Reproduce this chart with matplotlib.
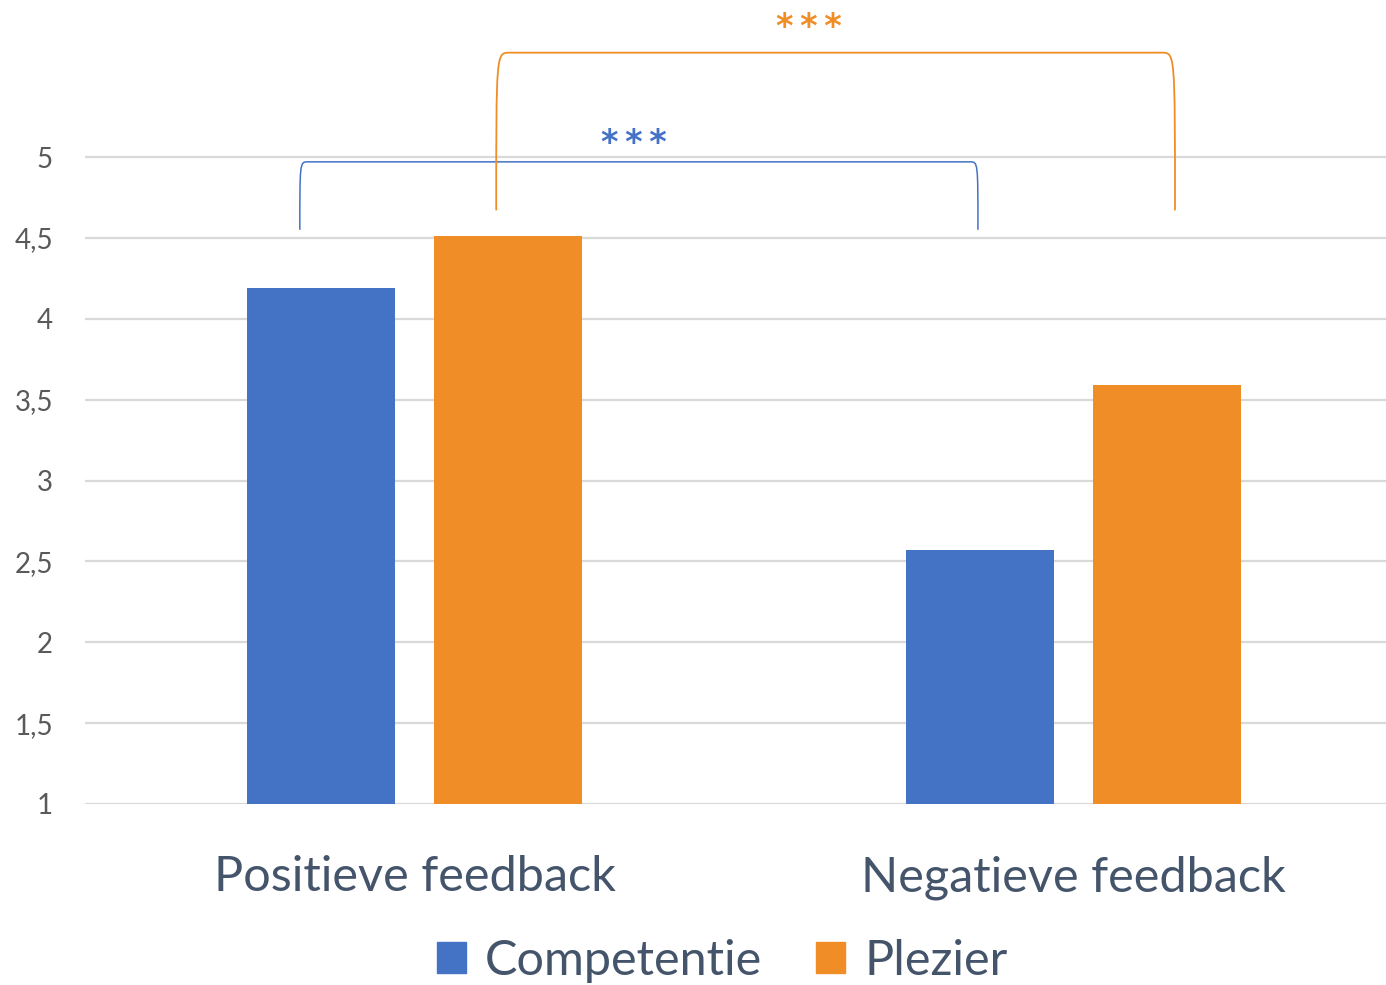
import matplotlib.pyplot as plt
from matplotlib.path import Path
from matplotlib.patches import PathPatch, Patch

plt.rcParams['font.family'] = ['Lato', 'DejaVu Sans']

# data
categories = ["Positieve feedback", "Negatieve feedback"]
series = ["Competentie", "Plezier"]
competentie = [4.19, 2.57]
plezier = [4.51, 3.59]
yticks = [1, 1.5, 2, 2.5, 3, 3.5, 4, 4.5, 5]
ytick_labels = ["1", "1,5", "2", "2,5", "3", "3,5", "4", "4,5", "5"]

# significance brackets: (x_left, y_left, x_right, y_right, y_top, label, label_x, label_y)
brackets = [
    (-0.174, 4.55, 0.855, 4.55, 4.97, "*\u2009*\u2009*", 0.333, 5.025),
    (0.124, 4.67, 1.154, 4.67, 5.645, "*\u2009*\u2009*", 0.599, 5.739),
]

BLUE = "#4472C4"
ORANGE = "#F18D26"
colors = [BLUE, ORANGE]

W, H = 1386, 985
fig = plt.figure(figsize=(W / 100, H / 100), dpi=100)
left = 85 / W
bottom = 1 - 804 / H
ax = fig.add_axes([left, bottom, 1318 / W, 5 * 161.75 / H])

xs = list(range(len(categories)))
bw = 0.2245
off = 0.1425
ax.bar([x - off for x in xs], competentie, width=bw, color=BLUE, label=series[0], zorder=3)
ax.bar([x + off for x in xs], plezier, width=bw, color=ORANGE, label=series[1], zorder=3)

ax.set_xlim(-0.5, 1.5)
ax.set_ylim(1, 6)
ax.set_yticks(yticks)
ax.set_yticklabels(ytick_labels)
ax.set_xticks(xs)
ax.set_xticklabels(categories)
ax.grid(axis="y", color="#D9D9D9", linewidth=1.6, zorder=0)
for s in ["top", "right", "left", "bottom"]:
    ax.spines[s].set_visible(False)
ax.axhline(1, color="#D9D9D9", linewidth=1.8, zorder=1)
ax.tick_params(axis="y", length=0, pad=23, labelsize=20, labelcolor="#595959")
ax.tick_params(axis="x", length=0, pad=37, labelsize=35, labelcolor="#44546A")

# brackets
for (xl, yl, xr, yr, yt, lab, lx, ly), c, lw in zip(brackets, colors, [1.1, 1.3]):
    dx = 0.012 if c == BLUE else 0.02
    verts = [(xl, yl), (xl, yt), (xl, yt), (xl + dx, yt),
             (xr - dx, yt),
             (xr, yt), (xr, yt), (xr, yr)]
    codes = [Path.MOVETO, Path.CURVE4, Path.CURVE4, Path.CURVE4,
             Path.LINETO,
             Path.CURVE4, Path.CURVE4, Path.CURVE4]
    ax.add_patch(PathPatch(Path(verts, codes), fill=False, edgecolor=c,
                           linewidth=lw, clip_on=False, zorder=4))
    ax.text(lx, ly, lab, color=c, fontsize=24, ha="center", va="baseline",
            family="DejaVu Sans", fontweight="bold")

handles = [Patch(color=c) for c in colors]
fig.legend(handles, series, loc="center", bbox_to_anchor=(0.521, 1 - 961 / H),
           ncol=2, frameon=False, fontsize=35, labelcolor="#44546A",
           handlelength=0.6, handleheight=0.6, handletextpad=0.4, columnspacing=1.1)

fig.savefig("out.png", dpi=100)
